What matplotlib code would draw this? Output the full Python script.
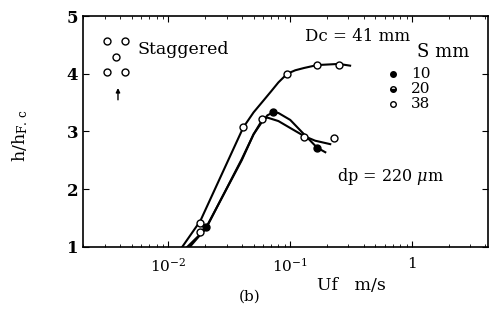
import matplotlib
matplotlib.use("Agg")
import matplotlib.pyplot as plt

plt.rcParams['font.family'] = ['DejaVu Serif']
plt.rcParams['mathtext.fontset'] = 'dejavuserif'

# measured points (Uf [m/s], h/hF.c)
s10_x = [0.0205, 0.0726, 0.166]
s10_y = [1.34, 3.33, 2.71]
s20_x = [0.0183, 0.0589, 0.130, 0.230]
s20_y = [1.26, 3.22, 2.90, 2.88]
s38_x = [0.0183, 0.0412, 0.0945, 0.166, 0.252]
s38_y = [1.41, 3.07, 4.00, 4.16, 4.16]

# hand-drawn trend curves
upper_x = [0.0130, 0.0183, 0.0412, 0.050, 0.060, 0.070, 0.080, 0.0945, 0.110, 0.130, 0.166, 0.250, 0.310]
upper_y = [1.00, 1.45, 3.07, 3.33, 3.53, 3.70, 3.85, 4.00, 4.06, 4.10, 4.15, 4.17, 4.14]
curve10_x = [0.0150, 0.0205, 0.040, 0.050, 0.058, 0.065, 0.0726, 0.080, 0.100, 0.130, 0.166, 0.194]
curve10_y = [1.00, 1.33, 2.52, 2.95, 3.15, 3.28, 3.33, 3.32, 3.20, 2.95, 2.72, 2.64]
curve20_x = [0.0143, 0.020, 0.040, 0.050, 0.0589, 0.065, 0.080, 0.100, 0.130, 0.160, 0.213]
curve20_y = [1.00, 1.30, 2.50, 2.95, 3.20, 3.24, 3.18, 3.06, 2.92, 2.84, 2.78]

fig = plt.figure(figsize=(4.95, 3.27), dpi=100)
ax = fig.add_axes([0.168, 0.245, 0.818, 0.706])

for cx, cy in [(upper_x, upper_y), (curve10_x, curve10_y), (curve20_x, curve20_y)]:
    ax.plot(cx, cy, color='black', lw=1.5)

ms = 5
ax.plot(s38_x, s38_y, 'o', ms=ms, mfc='white', mec='black', mew=1.0)
ax.plot(s20_x, s20_y, 'o', ms=ms, mfc='white', mec='black', mew=1.0)
ax.plot(s10_x, s10_y, 'o', ms=ms, mfc='black', mec='black', mew=1.0)

ax.set_xscale('log')
ax.set_xlim(0.002, 4.2)
ax.set_ylim(1, 5)
ax.set_yticks([1, 2, 3, 4, 5])
ax.set_xticks([0.01, 0.1, 1])
ax.set_xticklabels([r'$10^{-2}$', r'$10^{-1}$', '1'])
ax.tick_params(which='both', direction='in', top=True, right=True, labelsize=12)
ax.tick_params(axis='x', labelsize=11, pad=7)
ax.tick_params(which='major', length=4)
ax.tick_params(which='minor', length=2.5)
for lab in ax.get_yticklabels():
    lab.set_fontweight('bold')
for sp in ax.spines.values():
    sp.set_linewidth(1.2)

fig.text(20 / 495, 1 - 135 / 327, 'h/h$_{\\mathrm{F.\\,c}}$', fontsize=12.5,
         rotation=90, ha='center', va='center')

# staggered arrangement sketch
tr = ax.transAxes
for px, py in [(0.059, 0.892), (0.104, 0.892), (0.081, 0.822), (0.059, 0.758), (0.104, 0.758)]:
    ax.plot(px, py, 'o', ms=ms, mfc='white', mec='black', mew=1.0, transform=tr, clip_on=False)
ax.annotate('', xy=(0.086, 0.70), xytext=(0.086, 0.625), xycoords=tr,
            arrowprops=dict(arrowstyle='-|>', color='black', lw=1.0, mutation_scale=6))
ax.text(0.133, 0.853, 'Staggered', transform=tr, fontsize=12.5, va='center', ha='left')

ax.text(0.677, 0.913, 'Dc = 41 mm', transform=tr, fontsize=12, ha='center', va='center')
ax.text(0.889, 0.844, 'S mm', transform=tr, fontsize=13, ha='center', va='center')
leg_y = [0.749, 0.684, 0.619]
leg_lab = ['10', '20', '38']
leg_fill = ['full', 'bottom', 'none']
for ly, lab, fs in zip(leg_y, leg_lab, leg_fill):
    ax.plot(0.765, ly, 'o', ms=4, mfc='black', mfcalt='white', mec='black', mew=1.0,
            fillstyle=fs, transform=tr, clip_on=False)
    ax.text(0.810, ly, lab, transform=tr, fontsize=11, ha='left', va='center')
ax.text(0.758, 0.303, 'dp = 220 $\\mu$m', transform=tr, fontsize=11.5, ha='center', va='center')

fig.text(351 / 495, 1 - 285 / 327, 'Uf   m/s', fontsize=12.5, ha='center', va='center')
fig.text(250 / 495, 1 - 297 / 327, '(b)', fontsize=11, ha='center', va='center')

fig.savefig('out.png', dpi=100)
